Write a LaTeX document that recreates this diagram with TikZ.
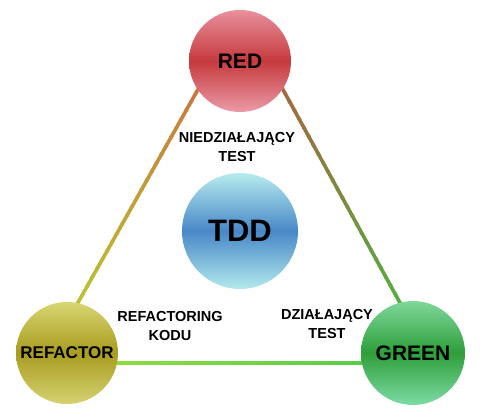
\documentclass[tikz,border=0pt]{standalone}
\usepackage{fontspec}
\setmainfont{Liberation Sans}
\usetikzlibrary{calc}
\definecolor{redTop}{HTML}{E8909C}
\definecolor{redMid}{HTML}{C63A3E}
\definecolor{redBot}{HTML}{EA9AA6}
\definecolor{refTop}{HTML}{D8D672}
\definecolor{refMid}{HTML}{A89C20}
\definecolor{refBot}{HTML}{D6D272}
\definecolor{grnTop}{HTML}{7ED89A}
\definecolor{grnMid}{HTML}{2E9E3A}
\definecolor{grnBot}{HTML}{7EDCA6}
\definecolor{tddTop}{HTML}{B6ECEE}
\definecolor{tddMid}{HTML}{4888C8}
\definecolor{tddBot}{HTML}{B2EAEC}
\definecolor{lnA}{HTML}{D05E40}
\definecolor{lnB}{HTML}{B4D830}
\definecolor{lnC}{HTML}{C05040}
\definecolor{lnD}{HTML}{40C040}
\definecolor{lnE}{HTML}{9CE040}
\definecolor{lnF}{HTML}{4CC84C}
\tikzset{
  ball/.style={circle, inner sep=0pt, font=\bfseries\fontsize{21}{25}\selectfont},
  lbl/.style={align=center, font=\bfseries\fontsize{14.5}{19}\selectfont, inner sep=0pt},
  edge/.style={line width=3.6pt, line cap=butt},
}
\newcommand{\gradedge}[4]{%
  \foreach \i in {0,...,39}{%
    \pgfmathsetmacro{\s}{\i/40}%
    \pgfmathsetmacro{\e}{(\i+1.3)/40}%
    \pgfmathsetmacro{\p}{100-\i*100/39}%
    \draw[edge, color=#3!\p!#4] ($(#1)!\s!(#2)$) -- ($(#1)!{min(\e,1)}!(#2)$);
  }%
}
\begin{document}
\begin{tikzpicture}[x=1pt,y=-1pt]
\useasboundingbox (0,0) rectangle (480,414);
\coordinate (vt) at (241,13);
\coordinate (vl) at (44,363);
\coordinate (vr) at (433,363);
\gradedge{vt}{vl}{lnA}{lnB}
\gradedge{vt}{vr}{lnC}{lnD}
\gradedge{vl}{vr}{lnE}{lnF}
\node[ball, minimum size=102pt, top color=redTop, bottom color=redBot, middle color=redMid] (red) at (240,61) {RED};
\node[ball, minimum size=102pt, top color=refTop, bottom color=refBot, middle color=refMid, font=\bfseries\fontsize{17}{20}\selectfont] (refactor) at (67,353) {REFACTOR};
\node[ball, minimum size=104pt, top color=grnTop, bottom color=grnBot, middle color=grnMid] (green) at (413,353) {GREEN};
\node[ball, minimum size=116pt, top color=tddTop, bottom color=tddBot, middle color=tddMid, font=\bfseries\fontsize{31}{36}\selectfont] (tdd) at (240,231) {TDD};
\node[lbl] (l1) at (237,147) {NIEDZIAŁAJĄCY\\TEST};
\node[lbl] (l2) at (170,326) {REFACTORING\\KODU};
\node[lbl] (l3) at (327,324) {DZIAŁAJĄCY\\TEST};
\end{tikzpicture}
\end{document}
